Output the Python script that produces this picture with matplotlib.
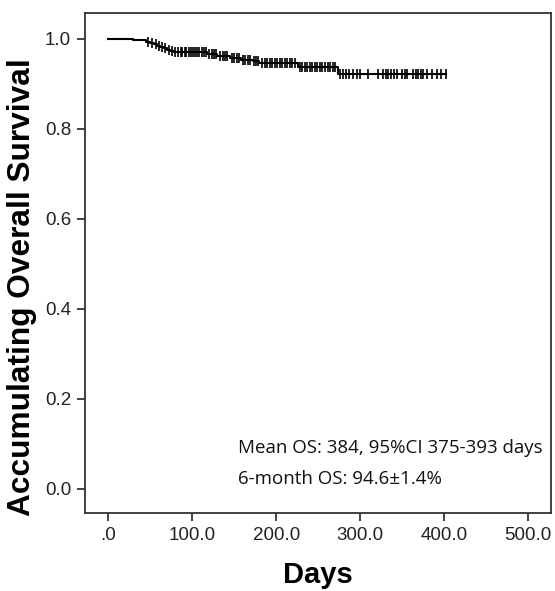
import numpy as np
import matplotlib
matplotlib.use("Agg")
import matplotlib.pyplot as plt
from matplotlib.ticker import FuncFormatter

plt.rcParams["font.family"] = ["Liberation Sans", "DejaVu Sans"]

# ---- data ----
event_days = [30, 45, 50, 55, 58, 62, 66, 70, 74, 78, 118, 130, 145, 158, 172, 180, 226, 273]
surv_after = [0.997, 0.994, 0.991, 0.988, 0.985, 0.982, 0.979, 0.976, 0.973, 0.970,
              0.966, 0.962, 0.958, 0.954, 0.950, 0.946, 0.938, 0.923]
censor_days = [47, 52, 57, 60, 64, 68, 72, 76, 80, 83, 86, 88, 91, 93, 96, 98, 101, 103,
               106, 108, 111, 114, 116, 120, 123, 126, 128, 133, 136, 139, 141, 147, 150,
               153, 156, 160, 163, 166, 169, 174, 176, 178, 183, 186, 189, 192, 195, 198,
               201, 204, 207, 210, 213, 216, 219, 222, 228, 231, 234, 237, 240, 243, 246,
               249, 252, 255, 258, 261, 264, 267, 270,
               276, 279, 283, 287, 291, 296, 300, 309, 321, 327, 330, 333, 336, 340, 344,
               350, 353, 356, 363, 366, 369, 372, 375, 379, 385, 391, 396, 402]
x_ticks = [0, 100, 200, 300, 400, 500]
y_ticks = [0.0, 0.2, 0.4, 0.6, 0.8, 1.0]
annot_lines = ["Mean OS: 384, 95%CI 375-393 days", "6-month OS: 94.6\u00b11.4%"]
x_label = "Days"
y_label = "Accumulating Overall Survival"

# ---- step function ----
t = np.concatenate([[0], event_days, [max(censor_days)]])
s = np.concatenate([[1.0], surv_after, [surv_after[-1]]])

def surv_at(d):
    idx = np.searchsorted(np.array(event_days), d, side="right")
    return 1.0 if idx == 0 else surv_after[idx - 1]

cs = [surv_at(d) for d in censor_days]

fig = plt.figure(figsize=(5.55, 5.91), dpi=100)
ax = fig.add_axes([85/555, 1 - 512.7/591, (551-85)/555, (512.7-13.3)/591])

ax.step(t, s, where="post", color="black", lw=1.5)
ax.plot(censor_days, cs, ls="none", marker="|", ms=7, mew=1.2, color="black")

ax.set_xlim(-27.7, 527)
ax.set_ylim(-0.053, 1.057)
ax.set_xticks(x_ticks)
ax.set_yticks(y_ticks)
ax.xaxis.set_major_formatter(FuncFormatter(lambda v, p: ".0" if v == 0 else f"{v:.1f}"))
ax.yaxis.set_major_formatter(FuncFormatter(lambda v, p: f"{v:.1f}"))

for sp in ax.spines.values():
    sp.set_color("#333333")
    sp.set_linewidth(1.3)
ax.tick_params(direction="out", length=6, width=1.3, color="#333333",
               labelsize=13.5, pad=4, labelcolor="#222222")

fig.text(318/555, 1 - 575/591, x_label, ha="center", va="center",
         fontsize=21, fontweight="bold")
fig.text(22/555, 1 - 287/591, y_label, ha="center", va="center", rotation=90,
         fontsize=22.8, fontweight="bold")

for i, line in enumerate(annot_lines):
    fig.text(238/555, 1 - (448 + 31*i)/591, line, ha="left", va="center",
             fontsize=13.5, family=["Open Sans", "DejaVu Sans"], color="#111111")

fig.savefig("out.png", dpi=100)
